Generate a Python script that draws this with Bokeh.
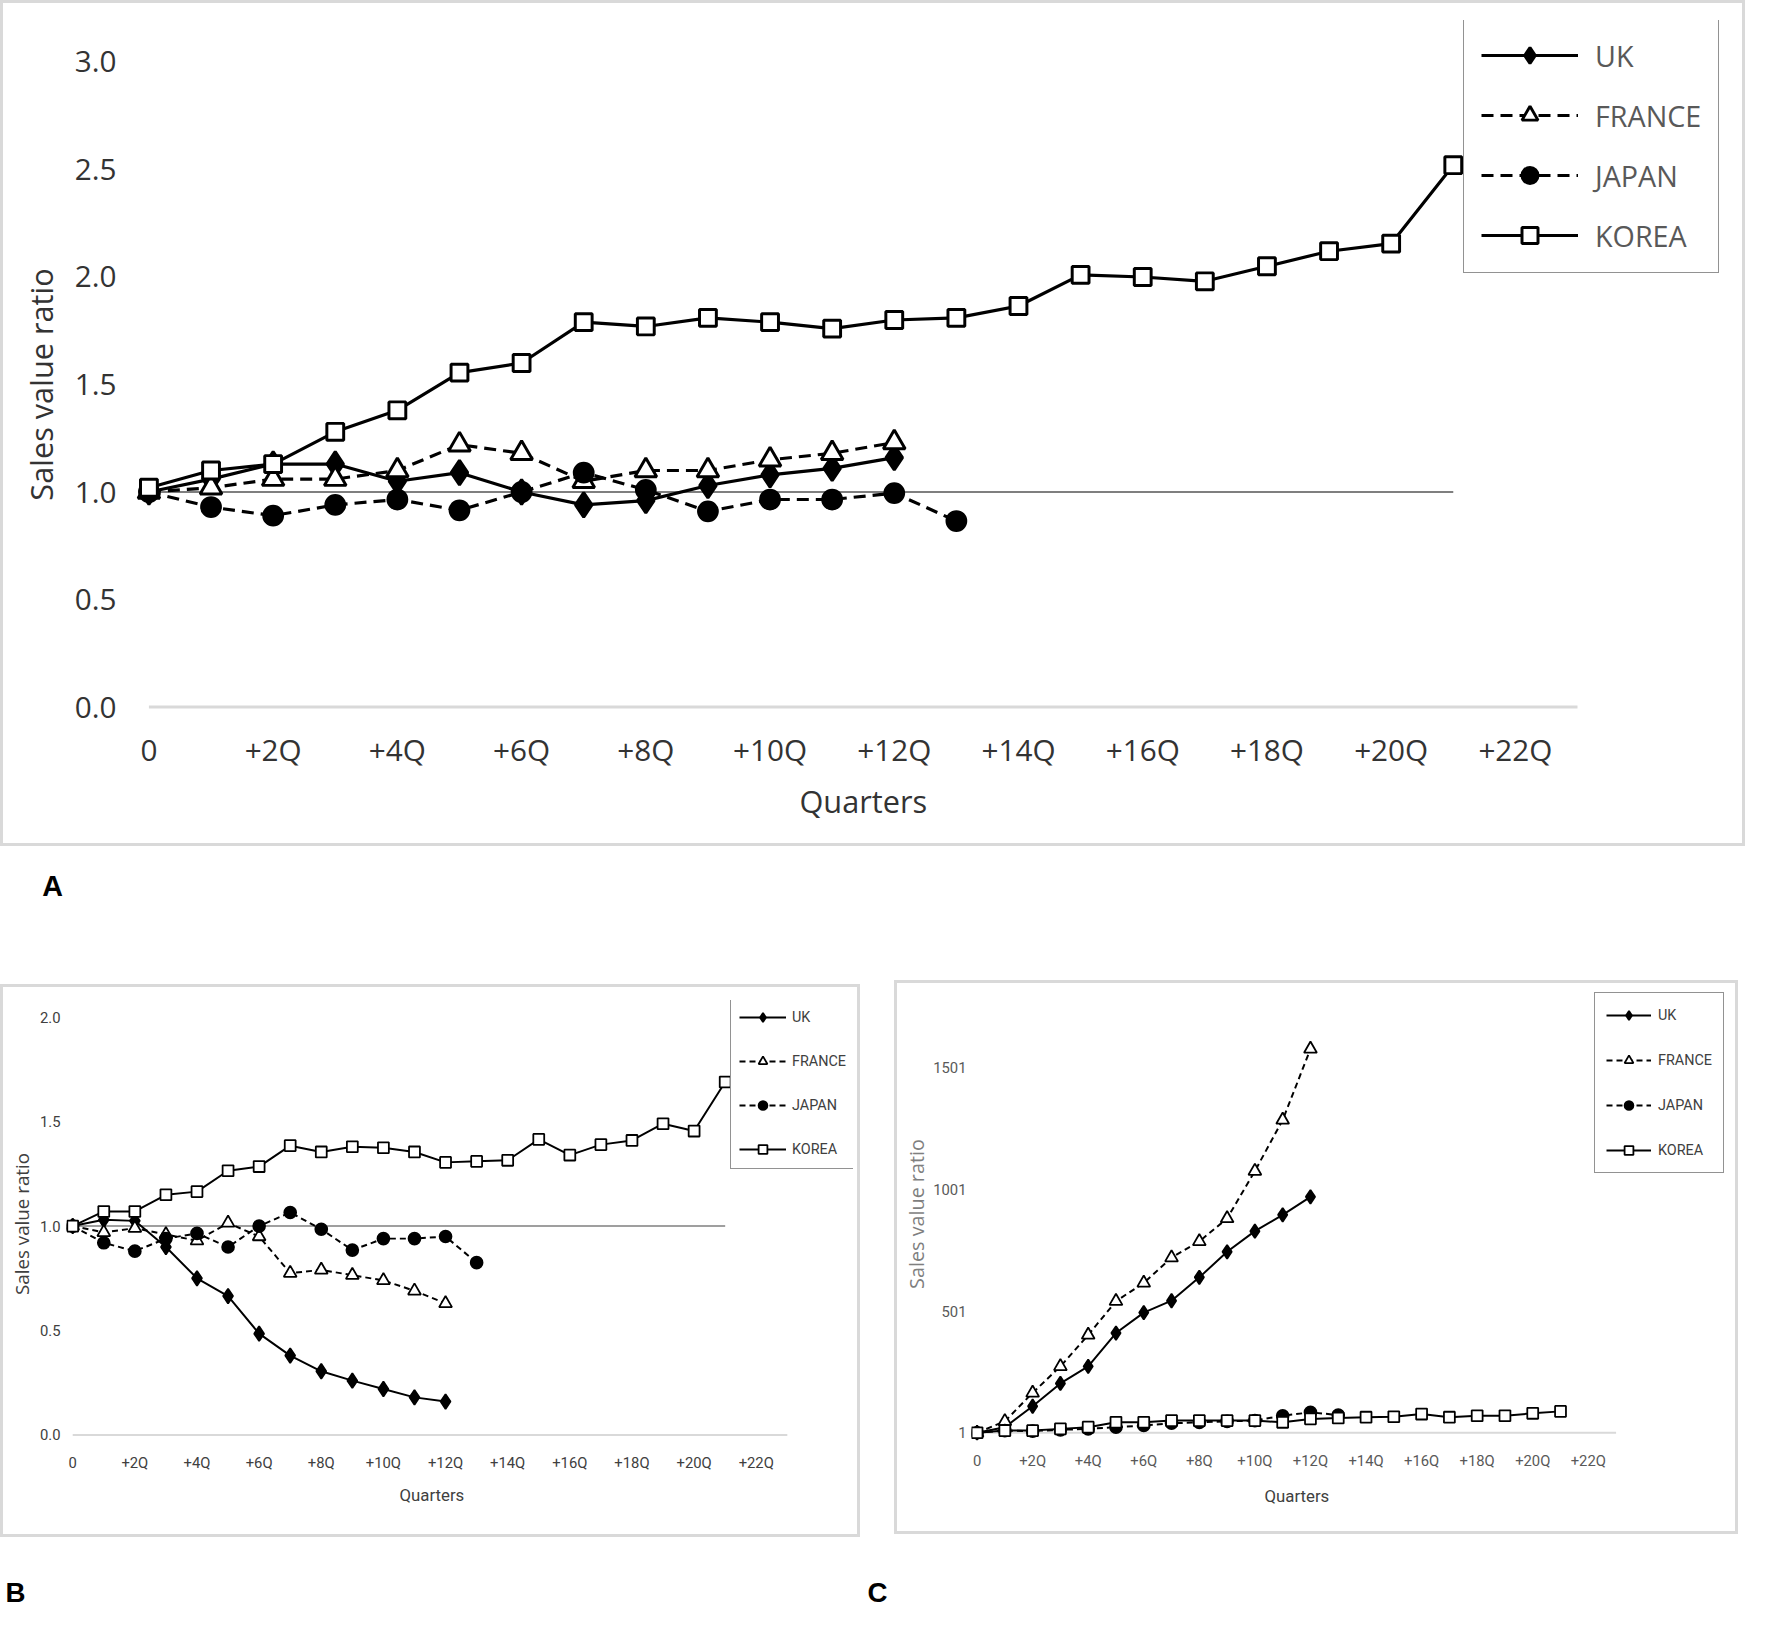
from bokeh.plotting import figure
from bokeh.models import Range1d, FixedTicker, Legend, LegendItem, Spacer, Title
from bokeh.layouts import column, row
from bokeh.core.properties import value
from bokeh.embed import file_html
from bokeh.resources import INLINE

SCALE = 0.99


def px(v):
    return int(round(v * SCALE))


def fs(v):
    return f"{v * SCALE:.1f}px"


# ---------------------------------------------------------------- data
countries = ["UK", "FRANCE", "JAPAN", "KOREA"]
x_ticks = [0, 2, 4, 6, 8, 10, 12, 14, 16, 18, 20, 22]
x_tick_labels = ["0", "+2Q", "+4Q", "+6Q", "+8Q", "+10Q", "+12Q",
                 "+14Q", "+16Q", "+18Q", "+20Q", "+22Q"]
x_axis_end = 23

# Panel A
uk_A = [1.00, 1.06, 1.13, 1.13, 1.05, 1.09, 1.00, 0.94, 0.96, 1.03, 1.08, 1.11, 1.16]
france_A = [1.00, 1.02, 1.06, 1.06, 1.10, 1.22, 1.18, 1.05, 1.10, 1.10, 1.15, 1.18, 1.23]
japan_A = [1.00, 0.93, 0.89, 0.94, 0.965, 0.915, 1.00, 1.09, 1.01, 0.91, 0.965, 0.965, 0.995, 0.865]
korea_A = [1.02, 1.10, 1.13, 1.28, 1.38, 1.555, 1.60, 1.79, 1.77, 1.81, 1.79, 1.76, 1.80,
           1.81, 1.865, 2.01, 2.00, 1.98, 2.05, 2.12, 2.155, 2.52]
y_ticks_A = [0.0, 0.5, 1.0, 1.5, 2.0, 2.5, 3.0]
y_tick_labels_A = ["0.0", "0.5", "1.0", "1.5", "2.0", "2.5", "3.0"]

# Panel B
uk_B = [1.00, 1.03, 1.025, 0.90, 0.75, 0.665, 0.485, 0.38, 0.305, 0.26, 0.22, 0.18, 0.16]
france_B = [1.00, 0.97, 0.99, 0.96, 0.93, 1.015, 0.95, 0.775, 0.79, 0.765, 0.74, 0.69, 0.63]
japan_B = [1.00, 0.92, 0.88, 0.94, 0.965, 0.90, 1.00, 1.065, 0.985, 0.885, 0.94, 0.94, 0.95, 0.825]
korea_B = [1.00, 1.07, 1.07, 1.15, 1.165, 1.265, 1.285, 1.385, 1.355, 1.38, 1.375, 1.355, 1.305,
           1.31, 1.315, 1.415, 1.34, 1.39, 1.41, 1.49, 1.455, 1.69]
y_ticks_B = [0.0, 0.5, 1.0, 1.5, 2.0]
y_tick_labels_B = ["0.0", "0.5", "1.0", "1.5", "2.0"]

# Panel C
uk_C = [1, 24, 110, 204, 274, 411, 495, 544, 640, 745, 830, 897, 971]
france_C = [1, 48, 165, 274, 403, 542, 617, 721, 788, 882, 1077, 1287, 1579]
japan_C = [1, 10, 8, 13, 17, 24, 31, 40, 44, 48, 51, 71, 85, 74]
korea_C = [1, 10, 10, 17, 24, 44, 44, 51, 51, 51, 51, 44, 58, 62, 65, 67, 78, 65, 71, 71, 81, 89]
y_ticks_C = [1, 501, 1001, 1501]
y_tick_labels_C = ["1", "501", "1001", "1501"]

panel_labels = ["A", "B", "C"]
x_title = "Quarters"
y_title = "Sales value ratio"

# ---------------------------------------------------------------- styles
STYLE = {
    "UK": dict(dash="solid", marker="diamond", fill="black"),
    "FRANCE": dict(dash="dashed", marker="triangle", fill="white"),
    "JAPAN": dict(dash="dashed", marker="circle", fill="black"),
    "KOREA": dict(dash="solid", marker="square", fill="white"),
}
BORDER = 3  # px of the light grey panel frame

CFG_A = dict(
    W=1763, H=855, frame=(137.4, 1745.0, 20.0, 756.0),
    xr=(-0.2, 25.415), yr=(-0.193, 3.193),
    yticks=y_ticks_A, ylabels=y_tick_labels_A, ref=True,
    tick_font="Open Sans", tick_size=30, tick_color="#333333",
    title_font="Open Sans", xtitle_size=31, ytitle_size=31, title_color="#333333",
    ytitle_color="#333333",
    ystandoff=20, xstandoff=-20, ylab_standoff=10,
    xtitle_offset=670, xtitle_standoff=10,
    lw=3.2, dash="12 7",
    msize=dict(diamond=25, triangle=22, circle=19, square=17), mlw=3.0,
    leg=dict(left=1478, bottom=276, padding=17, gh=40, spacing=20, gw=98,
             standoff=17, font="Open Sans", size=29, color="#595959", border=1.8),
    zero_color="#d9d9d9", zero_w=3, ref_color="#7f7f7f", ref_w=2,
)

CFG_B = dict(
    W=869, H=559, frame=(66.7, 862.0, 16.0, 468.0),
    xr=(-0.2, 25.13), yr=(-0.06, 2.08),
    yticks=y_ticks_B, ylabels=y_tick_labels_B, ref=True,
    tick_font="Roboto", tick_size=15, tick_color="#404040",
    title_font="Roboto", xtitle_size=17, ytitle_size=19, title_color="#404040",
    ytitle_color="#404040",
    ystandoff=6, xstandoff=6, ylab_standoff=2,
    xtitle_offset=336, xtitle_standoff=16,
    lw=2, dash="6 4",
    msize=dict(diamond=15, triangle=13, circle=12, square=11), mlw=1.8,
    leg=dict(left=737, bottom=1181 - 994, padding=8, gh=22, spacing=22, gw=47,
             standoff=6, font="Roboto", size=14.5, color="#404040", border=1.2),
    zero_color="#d9d9d9", zero_w=2, ref_color="#7f7f7f", ref_w=1.5,
)

CFG_C = dict(
    W=853, H=560, frame=(77.4, 842.0, 4.6, 466.8),
    xr=(-0.2, 27.01), yr=(-39, 1840),
    yticks=y_ticks_C, ylabels=y_tick_labels_C, ref=False,
    tick_font="Roboto", tick_size=15, tick_color="#595959",
    title_font="Roboto", xtitle_size=17, ytitle_size=20, title_color="#404040",
    ytitle_color="#7f7f7f",
    ystandoff=5, xstandoff=9, ylab_standoff=0,
    xtitle_offset=296, xtitle_standoff=23,
    lw=2, dash="6 4",
    msize=dict(diamond=14, triangle=13, circle=12, square=11), mlw=1.8,
    leg=dict(left=1610 - 903, bottom=1185 - 990, padding=11, gh=22, spacing=23, gw=45,
             standoff=7, font="Roboto", size=14.5, color="#404040", border=1.2),
    zero_color="#d9d9d9", zero_w=2, ref_color="#7f7f7f", ref_w=1.5,
)


def build_panel(cfg, series):
    W, H = cfg["W"], cfg["H"]
    fl, fr, ft, fb = cfg["frame"]
    bw = BORDER
    p = figure(width=px(W) - 2 * bw, height=px(H) - 2 * bw,
               x_range=Range1d(*cfg["xr"]), y_range=Range1d(*cfg["yr"]),
               output_backend="svg", toolbar_location=None,
               min_border_left=px(fl) - bw, min_border_right=px(W - fr) - bw,
               min_border_top=px(ft) - bw, min_border_bottom=px(H - fb) - bw)
    p.outline_line_color = None
    p.grid.visible = False
    p.background_fill_color = "white"
    p.border_fill_color = "white"

    # axes
    p.xaxis.ticker = FixedTicker(ticks=x_ticks)
    p.xaxis.major_label_overrides = dict(zip(x_ticks, x_tick_labels))
    p.yaxis.ticker = FixedTicker(ticks=cfg["yticks"])
    p.yaxis.major_label_overrides = dict(zip(cfg["yticks"], cfg["ylabels"]))
    for ax in (p.xaxis[0], p.yaxis[0]):
        ax.axis_line_color = None
        ax.major_tick_line_color = None
        ax.minor_tick_line_color = None
        ax.major_tick_out = 0
        ax.major_tick_in = 0
        ax.major_label_text_font = cfg["tick_font"]
        ax.major_label_text_font_size = fs(cfg["tick_size"])
        ax.major_label_text_color = cfg["tick_color"]
        ax.axis_label_text_font_style = "normal"
    p.yaxis.axis_label = y_title
    p.yaxis.axis_label_text_font = "Open Sans"
    p.yaxis.axis_label_text_font_size = fs(cfg["ytitle_size"])
    p.yaxis.axis_label_text_color = cfg["ytitle_color"]
    p.yaxis.major_label_standoff = px(cfg["ystandoff"])
    p.xaxis.major_label_standoff = px(cfg["xstandoff"])
    p.yaxis.axis_label_standoff = px(cfg["ylab_standoff"])

    # x title placed under the plot area (0..23 quarters), not under the legend
    xt = Title(text=x_title, align="left", offset=px(cfg["xtitle_offset"]),
               text_font=cfg["title_font"], text_font_size=fs(cfg["xtitle_size"]),
               text_font_style="normal", text_color=cfg["title_color"],
               standoff=px(cfg["xtitle_standoff"]))
    p.add_layout(xt, "below")

    # horizontal category axis line
    y0 = cfg["yticks"][0]
    p.line(x=[0, x_axis_end], y=[y0, y0], line_color=cfg["zero_color"],
           line_width=px(cfg["zero_w"]))
    # reference line at 1.0 up to the longest series
    if cfg["ref"]:
        longest = max(len(v) for v in series.values())
        p.line(x=[0, longest - 1], y=[1.0, 1.0], line_color=cfg["ref_color"],
               line_width=cfg["ref_w"])

    items = []
    for name in countries:
        vals = series[name]
        qs = list(range(len(vals)))
        st = STYLE[name]
        lr = p.line(x=qs, y=vals, line_color="black", line_width=cfg["lw"] * SCALE,
                    line_dash=("solid" if st["dash"] == "solid" else cfg["dash"]))
        sr = p.scatter(x=qs, y=vals, marker=st["marker"],
                       size=cfg["msize"][st["marker"]] * SCALE,
                       fill_color=st["fill"], line_color="black",
                       line_width=cfg["mlw"] * SCALE)
        items.append(LegendItem(label=name, renderers=[lr, sr]))

    lg = cfg["leg"]
    leg = Legend(items=items,
                 location=(px(lg["left"] - fl), px(fb - lg["bottom"])))
    leg.margin = 0
    leg.padding = px(lg["padding"])
    leg.spacing = px(lg["spacing"])
    leg.glyph_height = px(lg["gh"])
    leg.label_height = px(lg["gh"])
    leg.glyph_width = px(lg["gw"])
    leg.label_standoff = px(lg["standoff"])
    leg.label_text_font = lg["font"]
    leg.label_text_font_size = fs(lg["size"])
    leg.label_text_color = lg["color"]
    leg.label_text_baseline = "middle"
    leg.border_line_color = "#262626"
    leg.border_line_width = lg["border"]
    leg.background_fill_color = "white"
    leg.background_fill_alpha = 1.0
    p.add_layout(leg)

    return column(p, styles={"border": f"{bw}px solid #d9d9d9"})


def label_fig(text, w, h, size):
    p = figure(width=px(w), height=px(h), x_range=Range1d(0, 1), y_range=Range1d(0, 1),
               x_axis_type=None, y_axis_type=None,
               output_backend="svg", toolbar_location=None, min_border=0)
    p.outline_line_color = None
    p.background_fill_color = "white"
    p.border_fill_color = "white"
    p.text(x=[0.5], y=[0.5], text=[text],
           text_font=value("Liberation Sans"), text_font_style="bold",
           text_font_size=fs(size), text_color="black",
           text_align="center", text_baseline="middle")
    return p


pA = build_panel(CFG_A, dict(UK=uk_A, FRANCE=france_A, JAPAN=japan_A, KOREA=korea_A))
pB = build_panel(CFG_B, dict(UK=uk_B, FRANCE=france_B, JAPAN=japan_B, KOREA=korea_B))
pC = build_panel(CFG_C, dict(UK=uk_C, FRANCE=france_C, JAPAN=japan_C, KOREA=korea_C))

labA = label_fig(panel_labels[0], 40, 40, 29)
labB = label_fig(panel_labels[1], 30, 34, 28)
labC = label_fig(panel_labels[2], 30, 34, 28)

layout = column(
    pA,
    Spacer(width=10, height=px(19)),
    row(Spacer(width=px(32), height=10), labA),
    Spacer(width=10, height=px(76)),
    row(column(Spacer(width=10, height=px(4)), pB), Spacer(width=px(34), height=10), pC),
    Spacer(width=10, height=px(38)),
    row(labB, Spacer(width=px(840), height=10), labC),
)

open("out.html", "w").write(file_html(layout, INLINE))
